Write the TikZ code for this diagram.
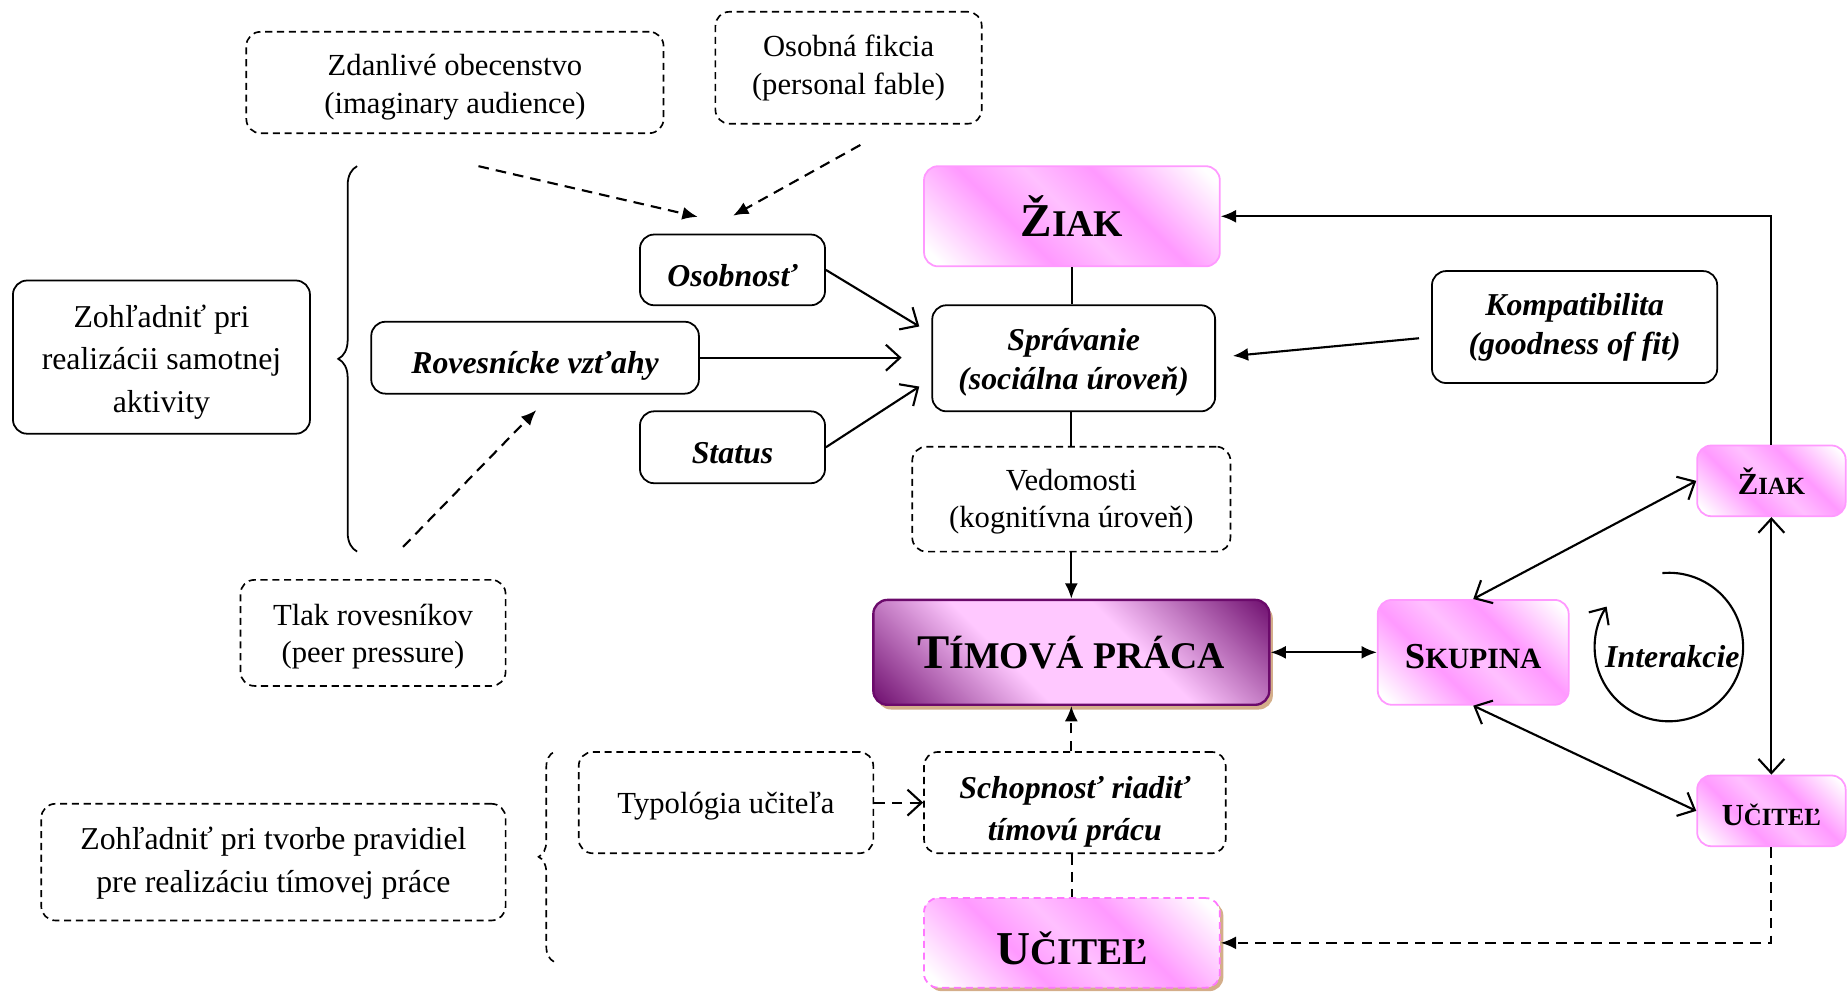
\documentclass[tikz,border=0pt]{standalone}
\usepackage{fontspec}
\setmainfont{Liberation Serif}
\usetikzlibrary{arrows.meta,shadows,decorations.pathreplacing}
\definecolor{pinkA}{HTML}{FF99FF}
\definecolor{pinkM}{HTML}{FFC0FF}
\definecolor{pinkD}{HTML}{FF77FF}
\definecolor{purpD}{HTML}{6B0A6B}
\definecolor{purpL}{HTML}{FFC8FF}
\definecolor{tanS}{HTML}{D4AE8A}
\pgfdeclarehorizontalshading{pinkband}{100bp}{color(0bp)=(white); color(18bp)=(white); color(38bp)=(pinkA); color(50bp)=(pinkM); color(62bp)=(pinkA); color(82bp)=(white); color(100bp)=(white)}
\pgfdeclarehorizontalshading{purpband}{100bp}{color(0bp)=(purpD); color(14bp)=(purpD); color(40bp)=(purpL); color(60bp)=(purpL); color(86bp)=(purpD); color(100bp)=(purpD)}
\newcommand\fsc[4]{{\fontsize{#1}{#1}\selectfont #3}{\fontsize{#2}{#2}\selectfont #4}}
\newcommand\lbl[2][0pt]{\raisebox{-#1}[\height][\depth]{\begin{tabular}{@{}c@{}}#2\end{tabular}}}
\newcommand\lbs[2][0pt]{\raisebox{-#1}[\height][\depth]{#2}}
\tikzset{
  every node/.style={inner sep=0pt},
  reg/.style={font=\fontsize{26}{32}\selectfont},
  bi/.style={font=\fontsize{27}{33}\selectfont\bfseries\itshape},
  solidbox/.style={draw, rounded corners=12pt, line width=1.5pt},
  dashbox/.style={draw, rounded corners=12pt, line width=1.4pt, dash pattern=on 6pt off 4pt},
  pinkbox/.style={draw=pinkA, rounded corners=12pt, line width=1.5pt, shading=pinkband, shading angle=45, font=\bfseries},
  pinkdash/.style={draw=pinkD, rounded corners=12pt, line width=1.5pt, dash pattern=on 6pt off 4pt, shading=pinkband, shading angle=45, font=\bfseries,
     drop shadow={shadow xshift=3pt, shadow yshift=-3pt, fill=tanS, opacity=1}},
  purpbox/.style={draw=purpD, rounded corners=12pt, line width=2pt, shading=purpband, shading angle=45, font=\bfseries,
     drop shadow={shadow xshift=3pt, shadow yshift=-4pt, fill=tanS, opacity=1}},
  conn/.style={line width=1.8pt},
  dconn/.style={line width=1.8pt, dash pattern=on 9pt off 6pt},
  solidtip/.style={-{Latex[length=13pt,width=11pt]}},
  opentip/.style={-{Straight Barb[length=12pt,width=22pt,line width=1.8pt]}},
  bothopen/.style={{Straight Barb[length=12pt,width=22pt,line width=1.8pt]}-{Straight Barb[length=12pt,width=22pt,line width=1.8pt]}},
  bothsolid/.style={{Latex[length=13pt,width=11pt]}-{Latex[length=13pt,width=11pt]}},
}
\begin{document}
\begin{tikzpicture}[x=1pt,y=-1pt]
\useasboundingbox (0,0) rectangle (1568,843);
% boxes
\node[dashbox, reg, minimum width=354pt, minimum height=86pt] (zdan) at (386,70) {\lbl[4pt]{Zdanlivé obecenstvo\\(imaginary audience)}};
\node[dashbox, reg, minimum width=226pt, minimum height=95pt] (fikc) at (720,57.5) {\lbl{Osobná fikcia\\(personal fable)}};
\node[pinkbox, minimum width=251pt, minimum height=85pt] (ziak) at (909.5,183.5) {\fsc{40}{32}{Ž}{IAK}};
\node[solidbox, bi, minimum width=157pt, minimum height=60pt] (osob) at (621.5,229) {\lbl[7.5pt]{Osobnosť}};
\node[solidbox, bi, minimum width=278pt, minimum height=61pt] (rov) at (454,303.5) {\lbl[7pt]{Rovesnícke vzťahy}};
\node[solidbox, bi, minimum width=157pt, minimum height=61pt] (stat) at (621.5,379.5) {\lbl[7.5pt]{Status}};
\node[solidbox, bi, minimum width=240pt, minimum height=90pt] (sprav) at (911,304) {\lbl[3pt]{Správanie\\(sociálna úroveň)}};
\node[solidbox, bi, minimum width=242pt, minimum height=95pt] (komp) at (1336,277.5) {\lbl{Kompatibilita\\(goodness of fit)}};
\node[dashbox, reg, minimum width=270pt, minimum height=89pt] (vedom) at (909,423.5) {\lbl[2pt]{Vedomosti\\(kognitívna úroveň)}};
\node[purpbox, minimum width=336pt, minimum height=89pt] (tim) at (909,553.5) {\fsc{41}{32}{T}{ÍMOVÁ PRÁCA}};
\node[pinkbox, minimum width=162pt, minimum height=89pt] (skup) at (1250,553.5) {\lbs[3.5pt]{\fsc{31}{25}{S}{KUPINA}}};
\node[pinkbox, minimum width=126pt, minimum height=60pt] (ziak2) at (1503,408) {\fsc{26}{21}{Ž}{IAK}};
\node[pinkbox, minimum width=126pt, minimum height=60pt] (ucit2) at (1503,688) {\lbs[3pt]{\fsc{26}{21}{U}{ČITEĽ}}};
\node[dashbox, font=\fontsize{27}{36}\selectfont\bfseries\itshape, minimum width=256pt, minimum height=86pt] (schop) at (912,681) {\lbl[7pt]{Schopnosť riadiť\\tímovú prácu}};
\node[dashbox, reg, minimum width=250pt, minimum height=86pt] (typ) at (616,681) {\lbl[3pt]{Typológia učiteľa}};
\node[pinkdash, minimum width=251pt, minimum height=76pt] (ucit) at (909.5,800) {\lbs[5pt]{\fsc{40}{32}{U}{ČITEĽ}}};
\node[solidbox, font=\fontsize{27}{36}\selectfont, minimum width=252pt, minimum height=130pt] (zoh1) at (137,303) {\lbl[3.5pt]{Zohľadniť pri\\realizácii samotnej\\aktivity}};
\node[dashbox, font=\fontsize{27}{37}\selectfont, minimum width=394pt, minimum height=99pt] (zoh2) at (232,731.5) {\lbl{Zohľadniť pri tvorbe pravidiel\\pre realizáciu tímovej práce}};
\node[dashbox, reg, minimum width=225pt, minimum height=90pt] (tlak) at (316.5,537) {\lbl[3pt]{Tlak rovesníkov\\(peer pressure)}};
\node[bi] (inter) at (1419,557) {Interakcie};
% braces
\draw[line width=1.5pt, decorate, decoration={brace, amplitude=16pt}] (303,468) -- (303,141);
\draw[line width=1.4pt, dash pattern=on 6pt off 4pt, decorate, decoration={brace, amplitude=13pt}] (470,816) -- (470,638);
% free-end coordinates
\coordinate (d1s) at (406,141); \coordinate (d1e) at (592,184);
\coordinate (d2s) at (730,123); \coordinate (d2e) at (622,183);
\coordinate (d3s) at (342,464); \coordinate (d3e) at (455,348);
\coordinate (o1) at (780,277); \coordinate (r1) at (765,303.5); \coordinate (s1) at (780,328);
\coordinate (k1) at (1204,287); \coordinate (k2) at (1046,302);
% connectors
\draw[dconn, solidtip] (d1s) -- (d1e);
\draw[dconn, solidtip] (d2s) -- (d2e);
\draw[dconn, solidtip] (d3s) -- (d3e);
\draw[conn, opentip] (osob.east) -- (o1);
\draw[conn, opentip] (rov.east) -- (r1);
\draw[conn, opentip] (stat.east) -- (s1);
\draw[conn, solidtip] (k1) -- (k2);
\draw[conn] (ziak.south) -- (ziak.south |- sprav.north);
\draw[conn] (vedom.north |- sprav.south) -- (vedom.north);
\draw[conn, solidtip] (vedom.south) -- (tim.north);
\draw[dconn, solidtip] (tim.south |- schop.north) -- (tim.south);
\draw[dconn] (ucit.north |- schop.south) -- (ucit.north);
\draw[dconn, opentip] (typ.east) -- (schop.west);
\draw[conn, bothsolid] (tim.east) -- (skup.west);
\draw[conn, bothopen] (skup.north) -- (ziak2.west);
\draw[conn, bothopen] (skup.south) -- (ucit2.west);
\draw[conn, bothopen] (ziak2.south) -- (ucit2.north);
\draw[conn, solidtip] (ziak2.north) |- (ziak.east);
\draw[dconn, solidtip] (ucit2.south) |- (ucit.east);
\draw[conn, -{Straight Barb[length=11pt,width=20pt,line width=1.8pt]}] (inter.center) ++(-3,-8) ++(-95:63) arc[start angle=-95, end angle=213, radius=63];
\end{tikzpicture}
\end{document}
